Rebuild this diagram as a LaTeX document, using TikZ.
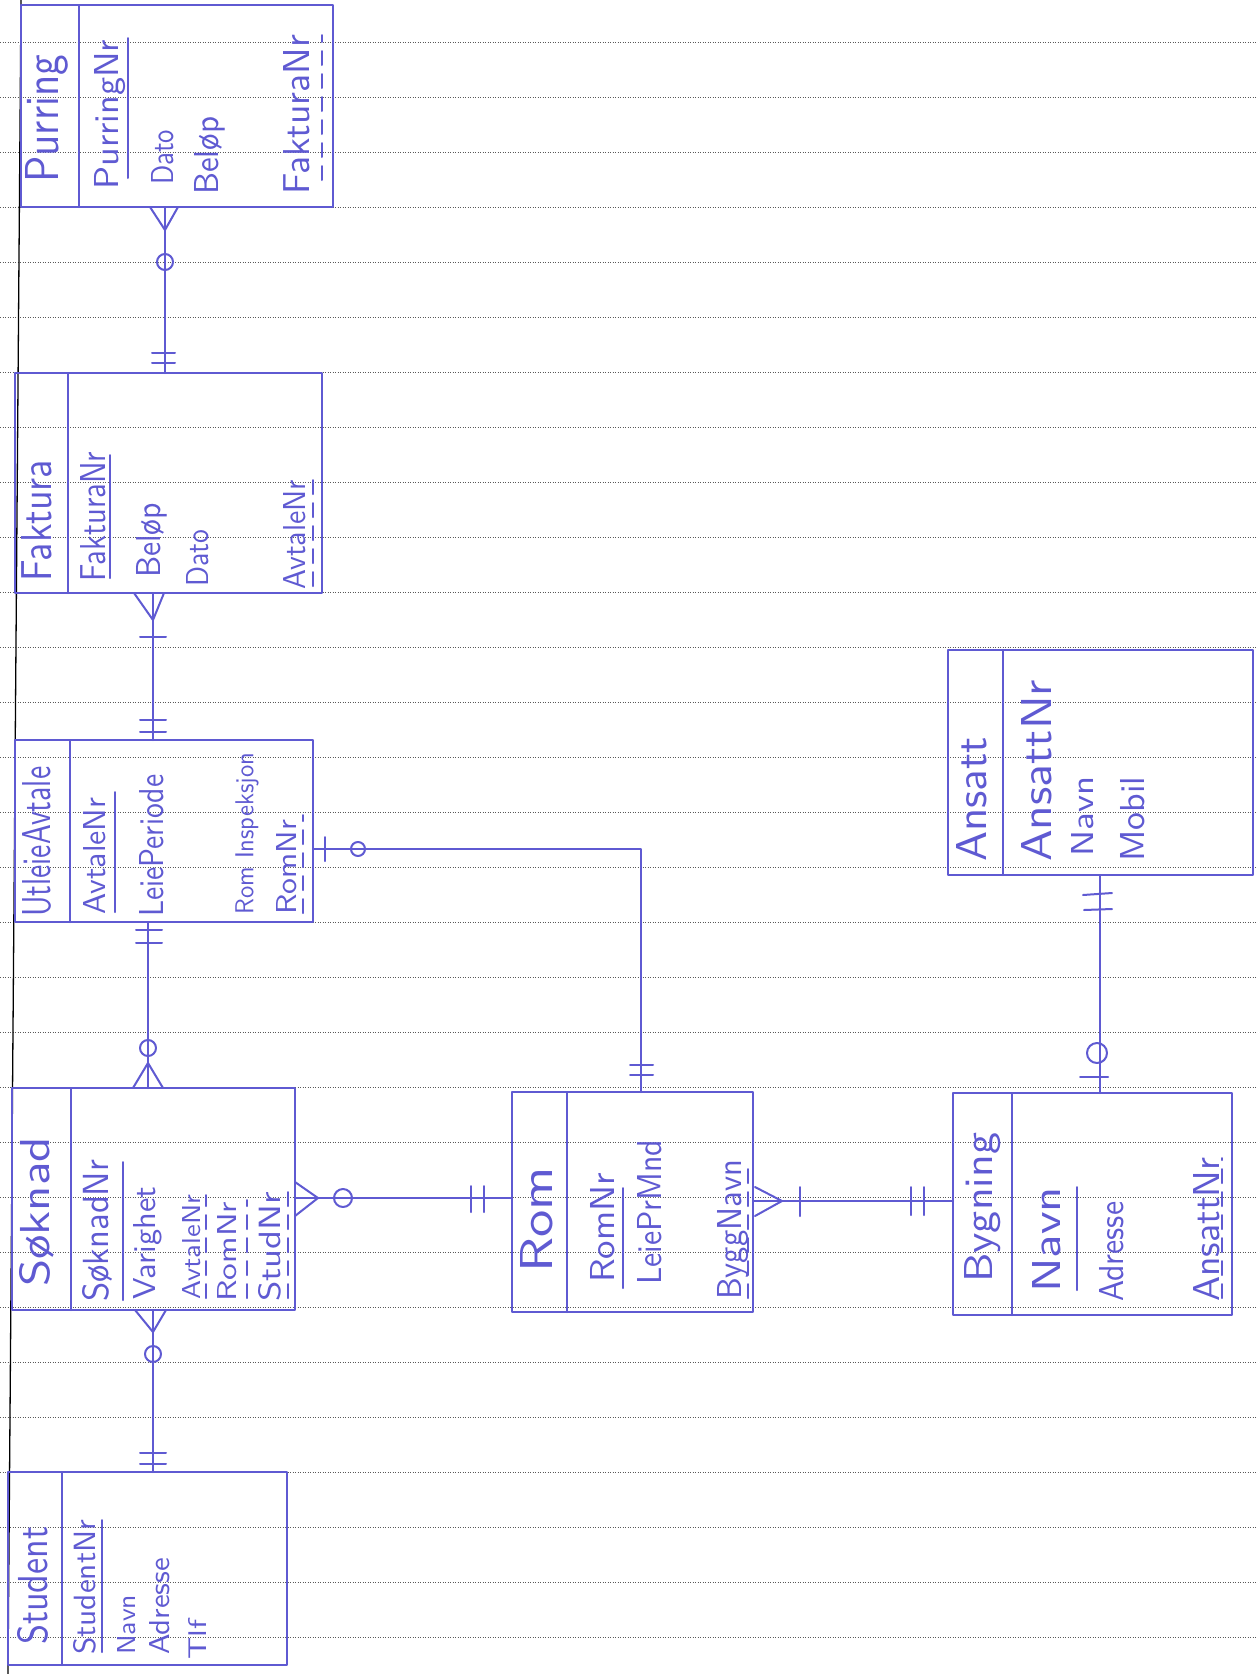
\documentclass[tikz,border=0pt]{standalone}
\usepackage{graphicx}
\usetikzlibrary{calc}
\definecolor{pen}{RGB}{95,90,210}
\newcommand\sz[3]{\resizebox{#1pt}{#2pt}{#3}}
\begin{document}
\begin{tikzpicture}[x=1pt,y=-1pt,
  paper/.style={dash pattern=on 1.2pt off 1.3pt, line width=0.7pt, black!65},
  penline/.style={draw=pen, line width=2pt, line cap=round, line join=round},
  entity/.style={penline, rectangle, inner sep=0pt, outer sep=0pt},
  lbl/.style={rotate=90, anchor=west, inner sep=0pt, text=pen, font=\sffamily},
  pk/.style={penline},
  fk/.style={penline, dash pattern=on 14pt off 9pt}]
\useasboundingbox (0,0) rectangle (1256,1674);
\fill[white] (0,0) rectangle (1256,1674);
% paper
\foreach \k in {0,...,29} \draw[paper] (0,{42+55*\k}) -- (1256,{42+55*\k});
\draw[black, line width=1.3pt] (21,0) -- (8,1674);

% ---------- entities ----------
\node[entity, minimum width=312pt, minimum height=202pt] (purring) at (177,106) {};
\node[entity, minimum width=307pt, minimum height=220pt] (faktura) at (168.5,483) {};
\node[entity, minimum width=298pt, minimum height=182pt] (utleie) at (164,831) {};
\node[entity, minimum width=283pt, minimum height=222pt] (soknad) at (153.5,1199) {};
\node[entity, minimum width=279pt, minimum height=193pt] (student) at (147.5,1568.5) {};
\node[entity, minimum width=241pt, minimum height=220pt] (rom) at (632.5,1202) {};
\node[entity, minimum width=279pt, minimum height=222pt] (bygning) at (1092.5,1204) {};
\node[entity, minimum width=305pt, minimum height=225pt] (ansatt) at (1100.5,762.5) {};

% dividers
\coordinate (dP) at (79,0);   \draw[penline] (purring.north -| dP) -- (purring.south -| dP);
\coordinate (dF) at (68,0);   \draw[penline] (faktura.north -| dF) -- (faktura.south -| dF);
\coordinate (dU) at (70,0);   \draw[penline] (utleie.north -| dU) -- (utleie.south -| dU);
\coordinate (dS) at (71,0);   \draw[penline] (soknad.north -| dS) -- (soknad.south -| dS);
\coordinate (dT) at (62,0);   \draw[penline] (student.north -| dT) -- (student.south -| dT);
\coordinate (dR) at (567,0);  \draw[penline] (rom.north -| dR) -- (rom.south -| dR);
\coordinate (dB) at (1012,0); \draw[penline] (bygning.north -| dB) -- (bygning.south -| dB);
\coordinate (dA) at (1003,0); \draw[penline] (ansatt.north -| dA) -- (ansatt.south -| dA);

% ---------- texts ----------
% Purring
\node[lbl] (pT) at (47,183) {\sz{128}{33}{Purring}};
\node[lbl] (pA1) at (110,190) {\sz{150}{24}{PurringNr}};
\node[lbl] (pA2) at (163,185) {\sz{55}{22}{Dato}};
\node[lbl] (pA3) at (210,195) {\sz{78}{24}{Beløp}};
\node[lbl] (pA4) at (297,195) {\sz{160}{26}{FakturaNr}};
\draw[pk] (128,178) -- (128,38);
\draw[fk] (322,180) -- (322,35);
% Faktura
\node[lbl] (fT) at (37,582) {\sz{122}{30}{Faktura}};
\node[lbl] (fA1) at (93,582) {\sz{130}{25}{FakturaNr}};
\node[lbl] (fA2) at (152,578) {\sz{75}{24}{Beløp}};
\node[lbl] (fA3) at (198,587) {\sz{57}{22}{Dato}};
\node[lbl] (fA4) at (295,590) {\sz{110}{22}{AvtaleNr}};
\draw[pk] (110,578) -- (110,455);
\draw[fk] (313,586) -- (313,480);
% UtleieAvtale
\node[lbl] (uT) at (37,917) {\sz{150}{28}{UtleieAvtale}};
\node[lbl] (uA1) at (95,915) {\sz{117}{22}{AvtaleNr}};
\node[lbl] (uA2) at (152,917) {\sz{142}{24}{LeiePeriode}};
\node[lbl] (uA3) at (247,915) {\sz{162}{18}{Rom Inspeksjon}};
\node[lbl] (uA4) at (287,915) {\sz{95}{20}{RomNr}};
\draw[pk] (115,912) -- (115,792);
\draw[fk] (303,913) -- (303,815);
% Soknad
\node[lbl] (sT) at (37,1287) {\sz{150}{30}{Søknad}};
\node[lbl] (sA1) at (98,1302) {\sz{142}{26}{SøknadNr}};
\node[lbl] (sA2) at (148,1300) {\sz{113}{22}{Varighet}};
\node[lbl] (sA3) at (192,1300) {\sz{105}{18}{AvtaleNr}};
\node[lbl] (sA4) at (227,1302) {\sz{100}{19}{RomNr}};
\node[lbl] (sA5) at (270,1302) {\sz{110}{22}{StudNr}};
\draw[pk] (123,1300) -- (123,1162);
\draw[fk] (206,1298) -- (206,1195);
\draw[fk] (247,1298) -- (247,1200);
\draw[fk] (288,1298) -- (288,1192);
% Student
\node[lbl] (tT) at (33,1645) {\sz{118}{30}{Student}};
\node[lbl] (tA1) at (85,1655) {\sz{135}{22}{StudentNr}};
\node[lbl] (tA2) at (127,1655) {\sz{60}{18}{Navn}};
\node[lbl] (tA3) at (160,1655) {\sz{97}{20}{Adresse}};
\node[lbl] (tA4) at (197,1660) {\sz{40}{18}{Tlf}};
\draw[pk] (102,1652) -- (102,1520);
% Rom
\node[lbl] (rT) at (537,1273) {\sz{106}{32}{Rom}};
\node[lbl] (rA1) at (603,1283) {\sz{110}{24}{RomNr}};
\node[lbl] (rA2) at (650,1285) {\sz{145}{24}{LeiePrMnd}};
\node[lbl] (rA3) at (733,1300) {\sz{140}{24}{ByggNavn}};
\draw[pk] (623,1288) -- (623,1188);
\draw[fk] (748,1298) -- (748,1160);
% Bygning
\node[lbl] (bT) at (983,1283) {\sz{150}{28}{Bygning}};
\node[lbl] (bA1) at (1047,1293) {\sz{106}{28}{Navn}};
\node[lbl] (bA2) at (1112,1302) {\sz{100}{24}{Adresse}};
\node[lbl] (bA3) at (1207,1302) {\sz{144}{26}{AnsattNr}};
\draw[pk] (1077,1290) -- (1077,1187);
\draw[fk] (1222,1298) -- (1222,1158);
% Ansatt
\node[lbl] (aT) at (972,862) {\sz{125}{30}{Ansatt}};
\node[lbl] (aA1) at (1037,862) {\sz{182}{30}{AnsattNr}};
\node[lbl] (aA2) at (1083,857) {\sz{80}{22}{Navn}};
\node[lbl] (aA3) at (1133,862) {\sz{85}{24}{Mobil}};

% ---------- connectors ----------
\coordinate (x1) at (165,0);
\draw[penline] (purring.south -| x1) -- (faktura.north -| x1);
\draw[penline] (150,207) -- (165,230) -- (178,207);
\draw[penline] (165,262) circle (8pt);
\draw[penline] (152,353) -- (175,353) (152,363) -- (175,363);

\coordinate (x2) at (153,0);
\draw[penline] (faktura.south -| x2) -- (utleie.north -| x2);
\draw[penline] (134,593) -- (153,620) -- (164,593);
\draw[penline] (140,637) -- (166,637);
\draw[penline] (140,720) -- (166,720) (140,732) -- (166,732);

\coordinate (x3) at (148,0);
\draw[penline] (utleie.south -| x3) -- (soknad.north -| x3);
\draw[penline] (136,930) -- (162,930) (136,943) -- (162,943);
\draw[penline] (133,1088) -- (148,1063) -- (163,1088);
\draw[penline] (148,1048) circle (8pt);

\coordinate (x4) at (153,0);
\draw[penline] (soknad.south -| x4) -- (student.north -| x4);
\draw[penline] (135,1310) -- (153,1332) -- (166,1310);
\draw[penline] (153,1354) circle (8pt);
\draw[penline] (140,1453) -- (166,1453) (140,1464) -- (166,1464);

\coordinate (y5) at (0,849);
\coordinate (c5) at (641,849);
\draw[penline] (utleie.east |- y5) -- (c5) -- (rom.north -| c5);
\draw[penline] (325,837) -- (325,861);
\draw[penline] (358,849) circle (7pt);
\draw[penline] (630,1065) -- (653,1065) (630,1075) -- (653,1075);

\coordinate (y6) at (0,1198);
\draw[penline] (soknad.east |- y6) -- (rom.west |- y6);
\draw[penline] (295,1182) -- (318,1198) -- (295,1216);
\draw[penline] (343,1198) circle (9pt);
\draw[penline] (471,1186) -- (471,1212) (484,1186) -- (484,1212);

\coordinate (y7) at (0,1201);
\draw[penline] (rom.east |- y7) -- (bygning.west |- y7);
\draw[penline] (755,1187) -- (782,1201) -- (755,1216);
\draw[penline] (800,1187) -- (800,1216);
\draw[penline] (911,1187) -- (911,1215) (924,1187) -- (924,1215);

\coordinate (x8) at (1100,0);
\draw[penline] (ansatt.south -| x8) -- (bygning.north -| x8);
\draw[penline] (1083,895) -- (1112,893) (1084,910) -- (1112,909);
\draw[penline] (1097,1053) circle (10pt);
\draw[penline] (1080,1077) -- (1108,1077);
\end{tikzpicture}
\end{document}
